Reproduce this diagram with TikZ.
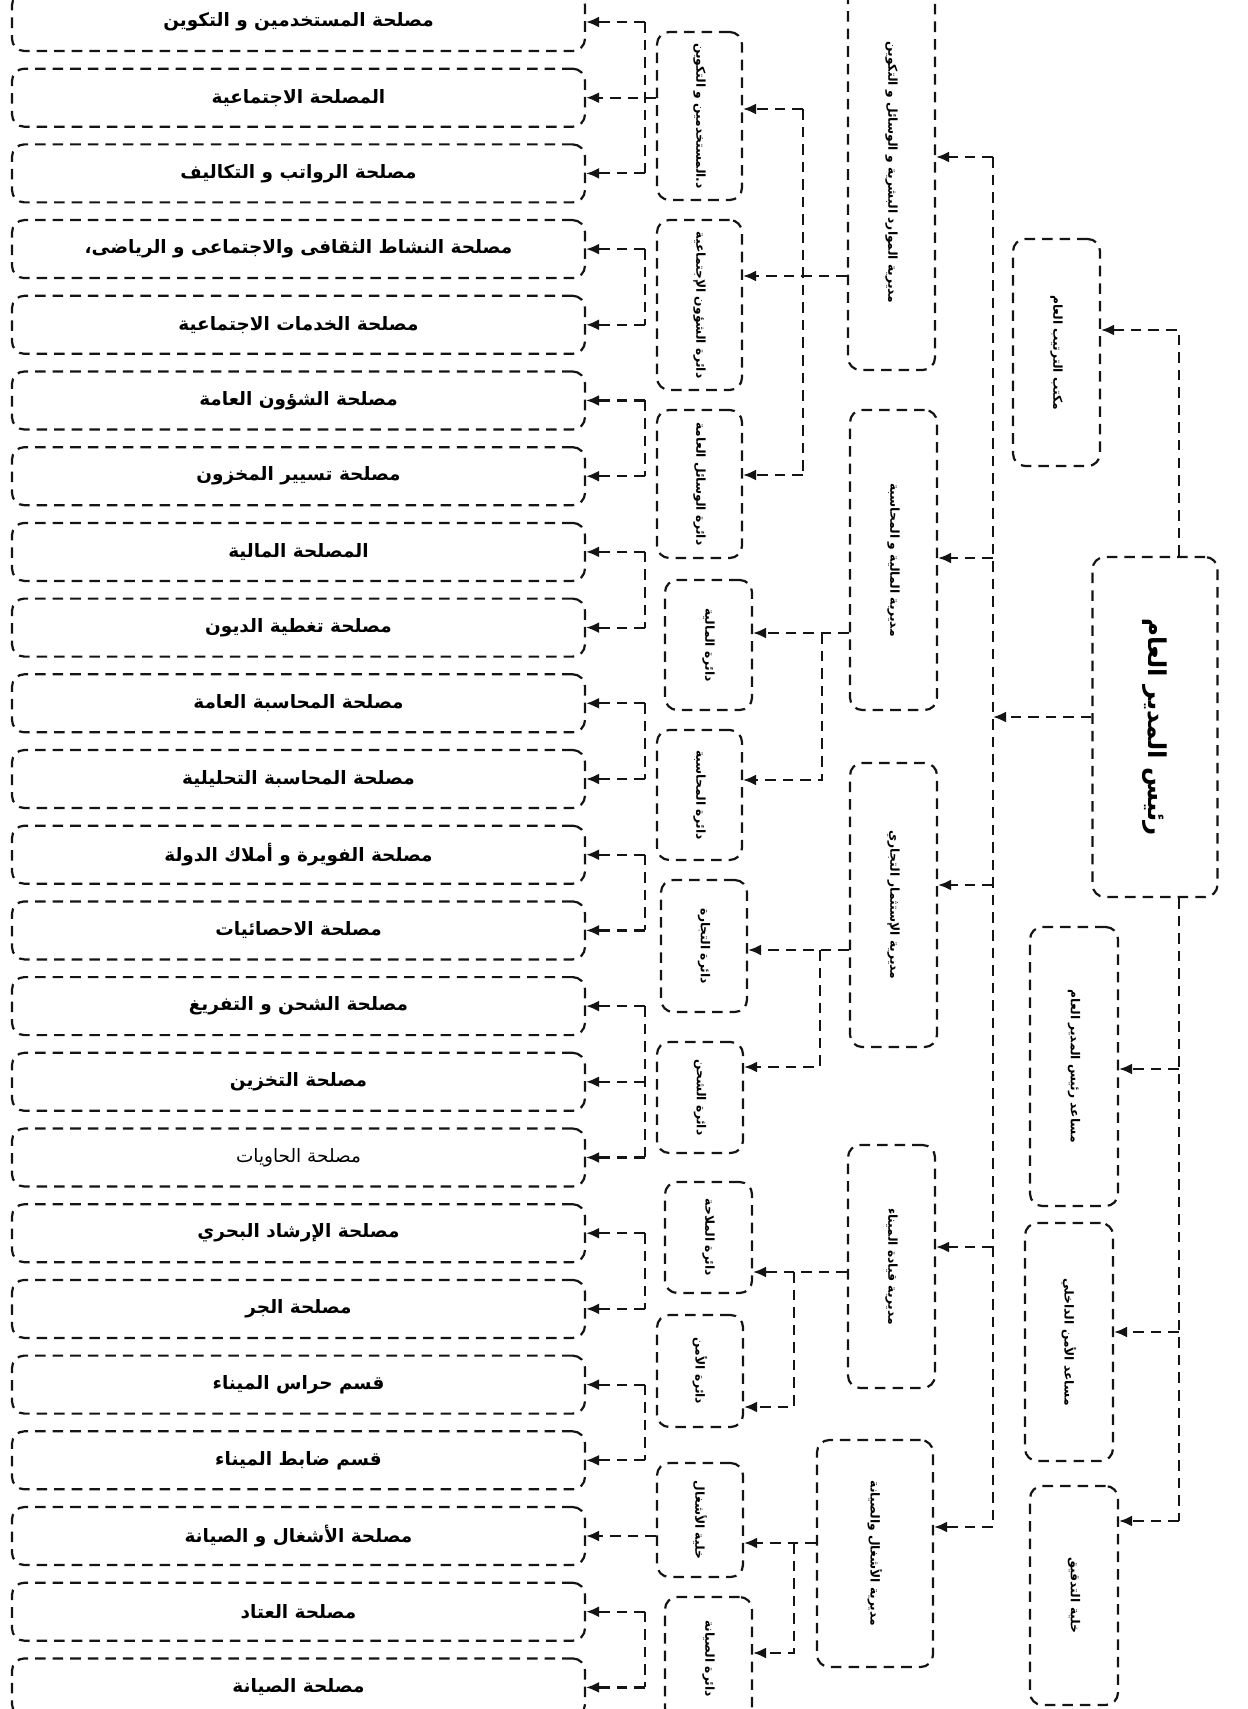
\documentclass[tikz,border=0pt]{standalone}
\usepackage{fontspec}
\newfontfamily\arabicfont[Script=Arabic]{DejaVu Sans}
\TeXXeTstate=1
\usetikzlibrary{arrows.meta,calc}
\definecolor{chartink}{HTML}{141414}
\newcommand\pxu{0.02cm}
\newcommand\artext[1]{{\arabicfont\beginR #1\endR}}
\newcommand\vtext[1]{\rotatebox{-90}{\arabicfont\beginR #1\endR}}
\tikzstyle{box} = [draw=chartink, line width=1.25pt, dash pattern=on 6pt off 4pt, rounded corners=7pt, inner sep=0pt]
\tikzstyle{svcbox} = [box, minimum width=573*\pxu, minimum height=58*\pxu, font=\fontsize{10.5}{12}\selectfont\bfseries]
\tikzstyle{deptbox} = [box, font=\fontsize{7}{9}\selectfont\bfseries]
\tikzstyle{link} = [chartink, line width=1.25pt, dash pattern=on 6pt off 4pt]
\tikzstyle{arrow} = [link, -{Latex[length=2.6mm,width=2.2mm]}]

\begin{document}
\begin{tikzpicture}[x=0.02cm, y=-0.02cm]
\fill[white] (0,0) rectangle (1247,1709);
\useasboundingbox (0,0) rectangle (1247,1709);

% services (left column)
\foreach [count=\i] \t in {
  {مصلحة المستخدمين و التكوين},
  {المصلحة الاجتماعية},
  {مصلحة الرواتب و التكاليف},
  {مصلحة النشاط الثقافى والاجتماعى و الرياضى،},
  {مصلحة الخدمات الاجتماعية},
  {مصلحة الشؤون العامة},
  {مصلحة تسيير المخزون},
  {المصلحة المالية},
  {مصلحة تغطية الديون},
  {مصلحة المحاسبة العامة},
  {مصلحة المحاسبة التحليلية},
  {مصلحة الفويرة و أملاك الدولة},
  {مصلحة الاحصائيات},
  {مصلحة الشحن و التفريغ},
  {مصلحة التخزين},
  {\mdseries مصلحة الحاويات},
  {مصلحة الإرشاد البحري},
  {مصلحة الجر},
  {قسم حراس الميناء},
  {قسم ضابط الميناء},
  {مصلحة الأشغال و الصيانة},
  {مصلحة العتاد},
  {مصلحة الصيانة}} {
  \node[svcbox] (s\i) at (298.5, {22+75.7*(\i-1)}) {\artext{\t}};
}

% departments
\foreach \n/\cx/\cy/\w/\h/\t in {
  D1/699.5/116/85/168/{د.المستخدمين و التكوين},
  D2/699.5/305/85/170/{دائرة الشؤون الإجتماعية},
  D3/699.5/484/85/148/{دائرة الوسائل العامة},
  D4/708.5/645/87/130/{دائرة المالية},
  D5/699.5/795/85/130/{دائرة المحاسبة},
  D6/704/946/86/132/{دائرة التجارة},
  D7/700/1097.5/86/111/{دائرة الشحن},
  D8/708.5/1237.5/87/111/{دائرة الملاحة},
  D9/700/1371/86/112/{دائرة الأمن},
  D10/700/1520/86/114/{خلية الأشغال},
  D11/708.5/1658.5/87/123/{دائرة الصيانة}} {
  \node[deptbox, minimum width=\w*\pxu, minimum height=\h*\pxu] (\n) at (\cx,\cy) {\vtext{\t}};
}

% directorates
\foreach \n/\cx/\cy/\w/\h/\t in {
  M1/891.5/172.5/87/395/{مديرية الموارد البشرية و الوسائل و التكوين},
  M2/893.5/560/87/300/{مديرية المالية و المحاسبة},
  M3/893.5/905/87/284/{مديرية الإستثمار التجاري},
  M4/891.5/1266.5/87/243/{مديرية قيادة الميناء},
  M5/875/1553.5/116/227/{مديرية الأشغال والصيانة}} {
  \node[deptbox, minimum width=\w*\pxu, minimum height=\h*\pxu] (\n) at (\cx,\cy) {\vtext{\t}};
}

% right column
\foreach \n/\cx/\cy/\w/\h/\t in {
  B1/1056.5/352.5/87/227/{مكتب الترتيب العام},
  A1/1074/1066.5/88/279/{مساعد رئيس المدير العام},
  A2/1069/1342/88/238/{مساعد الأمن الداخلي},
  A3/1074/1595.5/88/219/{خلية التدقيق}} {
  \node[deptbox, minimum width=\w*\pxu, minimum height=\h*\pxu] (\n) at (\cx,\cy) {\vtext{\t}};
}
\node[box, font=\fontsize{14}{17}\selectfont\bfseries, minimum width=125*\pxu, minimum height=340*\pxu] (dg) at (1155,727) {\vtext{رئيس المدير العام}};

% director -> directorates
\draw[arrow] (dg.west |- 0,717) -- (993,717);
\draw[link] (993,157) -- (993,1527);
\foreach \m/\y in {M1/157,M2/558,M3/885,M4/1247,M5/1527}
  \draw[arrow] (993,\y) -- (\m.east |- 0,\y);

% director -> office and assistants
\draw[arrow] (dg.north -| 1179,0) |- (B1.east |- 0,330);
\draw[link] (dg.south -| 1179,0) -- (1179,1521);
\foreach \a/\y in {A1/1069,A2/1332,A3/1521}
  \draw[arrow] (1179,\y) -- (\a.east |- 0,\y);

% directorates -> departments
\draw[arrow] (M1.west |- 0,276) -- (D2.east |- 0,276);
\draw[link] (803,109) -- (803,475);
\draw[arrow] (803,109) -- (D1.east |- 0,109);
\draw[arrow] (803,475) -- (D3.east |- 0,475);
\draw[arrow] (M2.west |- 0,633) -- (D4.east |- 0,633);
\draw[arrow] (822,633) |- (D5.east |- 0,780);
\draw[arrow] (M3.west |- 0,950) -- (D6.east |- 0,950);
\draw[arrow] (820,950) |- (D7.east |- 0,1067);
\draw[arrow] (M4.west |- 0,1272) -- (D8.east |- 0,1272);
\draw[arrow] (794,1272) |- (D9.east |- 0,1407);
\draw[arrow] (M5.west |- 0,1543) -- (D10.east |- 0,1543);
\draw[arrow] (794,1543) |- (D11.east |- 0,1653);

% departments -> services
\coordinate (bk) at (645,0);
\draw[arrow] (D1.west |- s2.east) -- (s2.east);
\draw[arrow] (D10.west |- s21.east) -- (s21.east);
\foreach \a/\b in {s1/s3,s4/s5,s6/s7,s8/s9,s10/s11,s12/s13,s14/s16,s17/s18,s19/s20,s22/s23}
  \draw[link] (\a.east -| bk) -- (\b.east -| bk);
\foreach \i in {1,3,4,5,6,7,8,9,10,11,12,13,14,15,16,17,18,19,20,22,23}
  \draw[arrow] (s\i.east -| bk) -- (s\i.east);
\end{tikzpicture}
\end{document}
